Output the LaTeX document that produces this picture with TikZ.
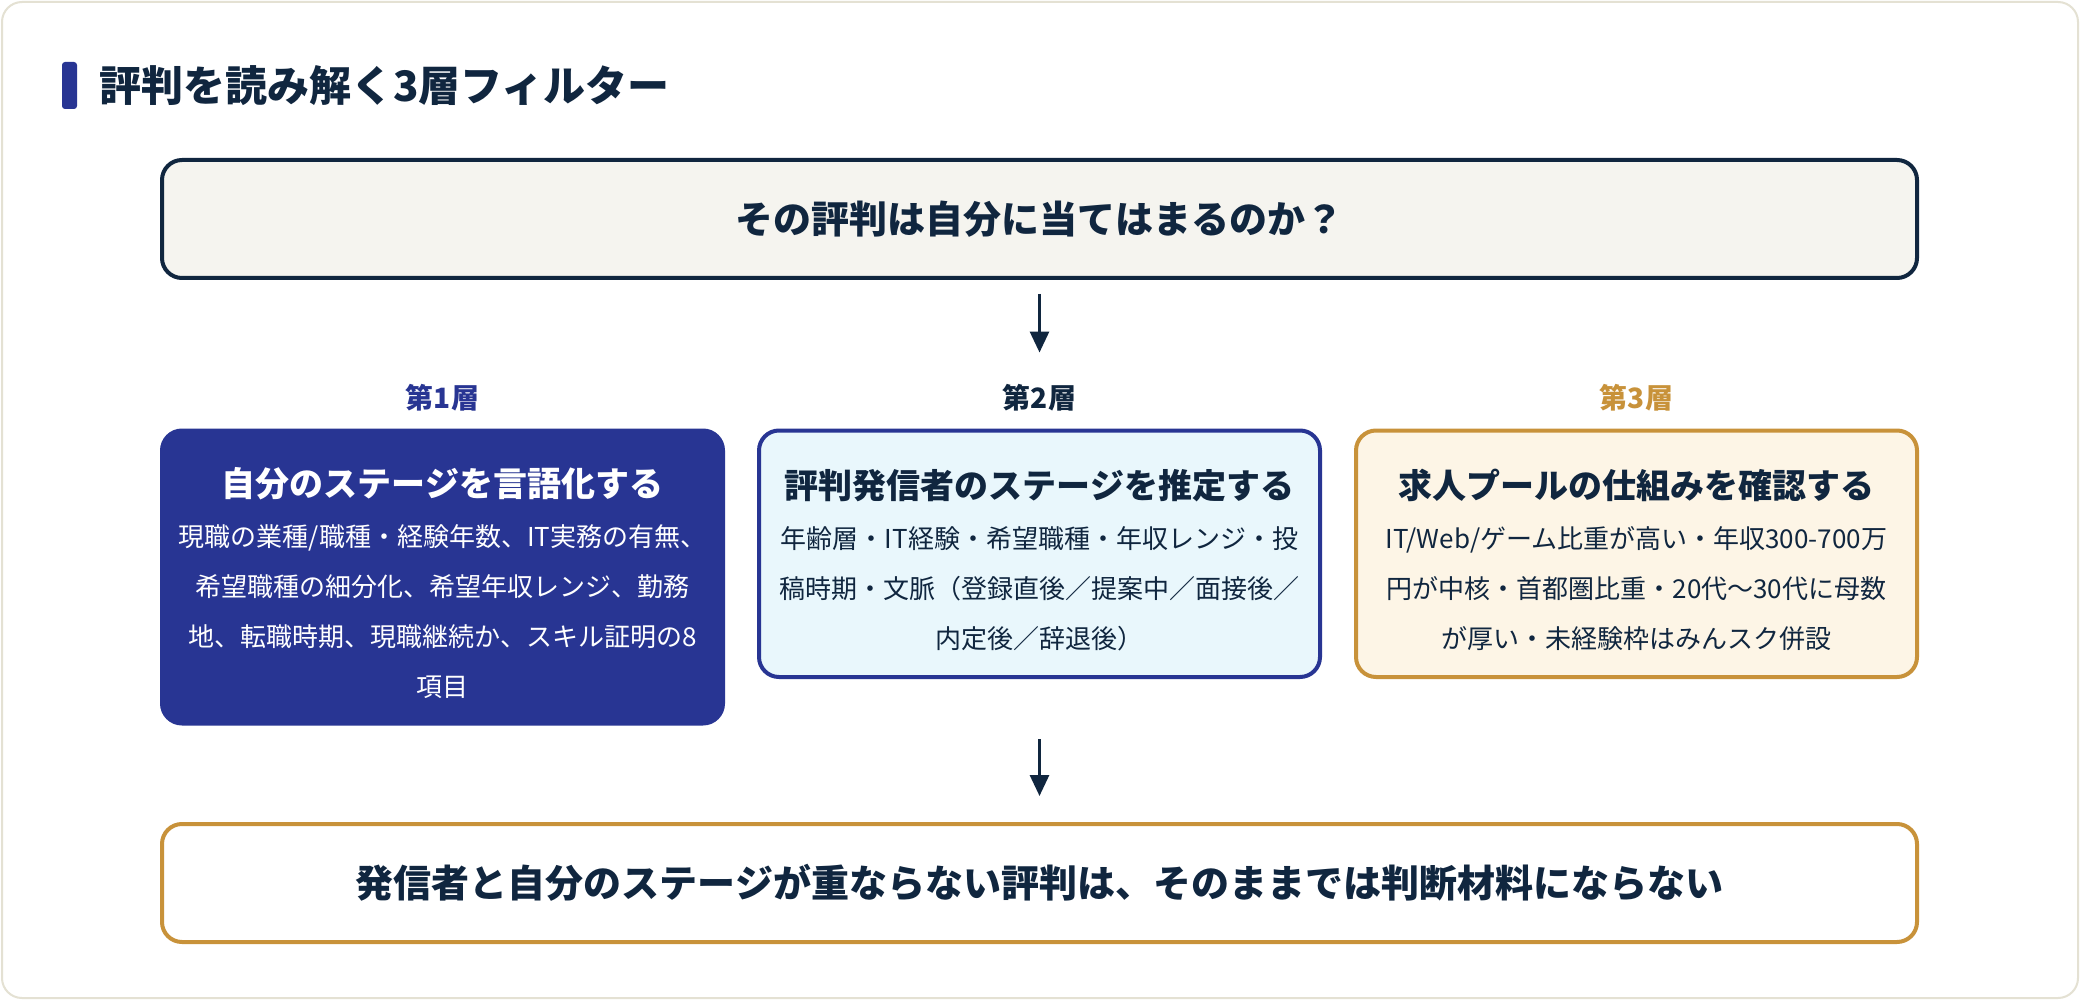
\documentclass[tikz,border=0pt]{standalone}
\usepackage{fontspec}
\setmainfont{Noto Sans CJK JP}
\usetikzlibrary{arrows.meta,positioning}
\definecolor{ink}{HTML}{10263F}
\definecolor{indigo}{HTML}{283593}
\definecolor{gold}{HTML}{C8923A}
\definecolor{paper}{HTML}{F5F4EF}
\definecolor{sky}{HTML}{E9F7FC}
\definecolor{cream}{HTML}{FDF5E6}
\definecolor{rim}{HTML}{E4E1D3}
\tikzset{
	qbox/.style={draw, rectangle, rounded corners=20pt, line width=4pt, minimum width=1755pt, minimum height=118pt, font=\fontsize{38}{44}\selectfont\bfseries, text=ink},
	layerbox/.style={draw, rectangle, rounded corners=20pt, line width=4pt, minimum width=561pt, text width=540pt, align=center, font=\fontsize{26}{50}\selectfont},
	layerlabel/.style={font=\fontsize{28}{32}\selectfont\bfseries, yshift=14pt},
	flowarrow/.style={line width=3pt, draw=ink, -{Triangle[length=21pt,width=19pt]}},
}
\newcommand{\boxtitle}[1]{{\fontsize{34}{50}\selectfont\bfseries\rule{0pt}{41pt}#1}}

\begin{document}
\begin{tikzpicture}[x=1pt, y=-1pt]
			\useasboundingbox (0, 0) rectangle (2080, 1000);
			\fill[white] (0, 0) rectangle (2080, 1000);
			\draw[rim, line width=2pt, rounded corners=20pt] (2, 2) rectangle (2078, 998);
			\fill[indigo, rounded corners=3pt] (62, 62) rectangle (77, 109);
			\node[anchor=west, text=ink, font=\fontsize{42}{48}\selectfont\bfseries, inner sep=0pt] (title)at(99, 86) {評判を読み解く3層フィルター};
			\node[qbox, draw=ink, fill=paper] (Q)at(1039.5, 219) {その評判は自分に当てはまるのか？};
			\node[layerbox, draw=indigo, fill=indigo, text=white, minimum height=293pt, label={[layerlabel, text=indigo]above:{第1層}}] (L1)at(442.5, 577) {\boxtitle{自分のステージを言語化する}\\現職の業種/職種・経験年数、IT実務の有無、\\希望職種の細分化、希望年収レンジ、勤務\\地、転職時期、現職継続か、スキル証明の8\\項目};
			\node[layerbox, draw=indigo, fill=sky, text=ink, minimum height=246.5pt, label={[layerlabel, text=ink]above:{第2層}}] (L2)at(1039.5, 553.75) {\boxtitle{評判発信者のステージを推定する}\\年齢層・IT経験・希望職種・年収レンジ・投\\稿時期・文脈（登録直後／提案中／面接後／\\内定後／辞退後）};
			\node[layerbox, draw=gold, fill=cream, text=ink, minimum height=246.5pt, label={[layerlabel, text=gold]above:{第3層}}] (L3)at(1636.5, 553.75) {\boxtitle{求人プールの仕組みを確認する}\\IT/Web/ゲーム比重が高い・年収300-700万\\円が中核・首都圏比重・20代〜30代に母数\\が厚い・未経験枠はみんスク併設};
			\node[qbox, draw=gold, fill=white] (B)at(1039.5, 883) {発信者と自分のステージが重ならない評判は、そのままでは判断材料にならない};
			\draw[flowarrow, shorten <=14pt, shorten >=76pt] (Q) -- (L2);
			\draw[flowarrow, shorten <=60pt, shorten >=26pt] (L2) -- (B);
		\end{tikzpicture}
\end{document}
